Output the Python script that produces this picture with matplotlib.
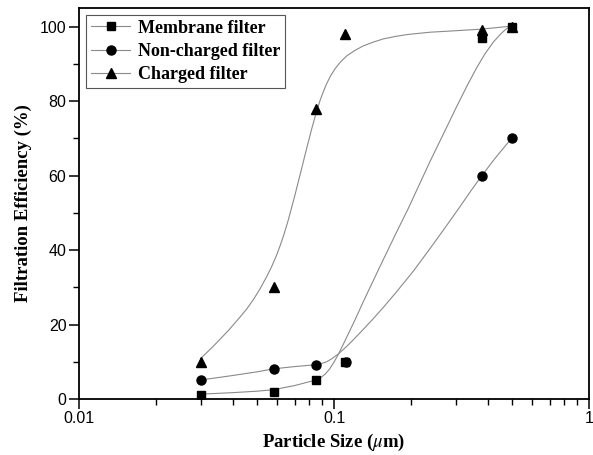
import matplotlib
matplotlib.use('Agg')
from matplotlib import pyplot as plt
from matplotlib.lines import Line2D
from matplotlib.ticker import FixedLocator, NullFormatter

# measured points
membrane_x = [0.03, 0.058, 0.085, 0.11, 0.38, 0.5]
membrane_y = [1, 2, 5, 10, 97, 100]
noncharged_x = [0.03, 0.058, 0.085, 0.111, 0.38, 0.5]
noncharged_y = [5, 8, 9, 10, 60, 70]
charged_x = [0.03, 0.058, 0.085, 0.11, 0.38, 0.5]
charged_y = [10, 30, 78, 98, 99, 100]

# fitted curves
membrane_fit_x = [0.03, 0.04, 0.05, 0.058, 0.07, 0.085, 0.089, 0.0924, 0.096, 0.1,
                  0.104, 0.11, 0.1208, 0.130, 0.151, 0.175, 0.195, 0.238, 0.27,
                  0.303, 0.333, 0.363, 0.39, 0.422, 0.45, 0.47, 0.49]
membrane_fit_y = [1.3, 1.7, 2.1, 2.5, 3.6, 5.1, 5.8, 6.7, 8.0, 9.9,
                  12.0, 15.4, 21.2, 26.0, 35.4, 44.5, 51.0, 63.8, 71.5,
                  78.6, 84.2, 89.0, 92.6, 95.9, 98.0, 99.2, 100.0]
noncharged_fit_x = [0.03, 0.04, 0.05, 0.058, 0.07, 0.085, 0.09, 0.0936, 0.098,
                    0.104, 0.11, 0.1156, 0.127, 0.1405, 0.157, 0.176, 0.205,
                    0.238, 0.27, 0.31, 0.345, 0.38, 0.43, 0.497]
noncharged_fit_y = [5.1, 6.3, 7.3, 8.1, 8.7, 9.2, 9.6, 10.0, 10.8,
                    12.1, 13.6, 15.0, 17.9, 21.1, 24.8, 28.8, 34.4,
                    40.4, 45.6, 51.4, 56.0, 60.0, 64.8, 70.0]
charged_fit_x = [0.03, 0.033, 0.0357, 0.039, 0.0428, 0.0455, 0.0483, 0.0513,
                 0.0545, 0.057, 0.0596, 0.0615, 0.0633, 0.0662, 0.070, 0.0736,
                 0.0776, 0.0818, 0.085, 0.0881, 0.091, 0.0936, 0.097, 0.101,
                 0.106, 0.112, 0.120, 0.130, 0.142, 0.156, 0.175, 0.195, 0.238,
                 0.30, 0.374, 0.43, 0.49]
charged_fit_y = [10.9, 13.6, 16.0, 18.8, 22.0, 24.2, 26.7, 29.6,
                 32.9, 35.6, 38.7, 41.2, 43.7, 48.1, 54.3, 60.2,
                 66.5, 72.6, 76.7, 80.1, 82.7, 84.7, 86.8, 88.7,
                 90.5, 92.1, 93.5, 94.8, 95.8, 96.7, 97.4, 97.9, 98.5,
                 98.9, 99.3, 99.7, 100.1]

labels = ['Membrane filter', 'Non-charged filter', 'Charged filter']
markers = ['s', 'o', '^']
marker_sizes = [6, 6.5, 7.5]

plt.rcParams['mathtext.fontset'] = 'stix'

fig = plt.figure(figsize=(5.93, 4.55), dpi=100)
ax = fig.add_axes([0.1332, 0.1231, 0.8601, 0.8593])

fit_color = '#8a8a8a'
series = [(membrane_x, membrane_y, membrane_fit_x, membrane_fit_y),
          (noncharged_x, noncharged_y, noncharged_fit_x, noncharged_fit_y),
          (charged_x, charged_y, charged_fit_x, charged_fit_y)]

handles = []
for (px, py, fx, fy), lab, mk, ms in zip(series, labels, markers, marker_sizes):
    ax.plot(fx, fy, color=fit_color, lw=0.8, zorder=2)
    ax.plot(px, py, ls='none', marker=mk, ms=ms, color='black', zorder=3)
    handles.append(Line2D([], [], color=fit_color, lw=0.8, marker=mk, ms=ms,
                          mfc='black', mec='black', label=lab))

ax.set_xscale('log')
ax.set_xlim(0.01, 1)
ax.set_ylim(0, 105)

ax.xaxis.set_major_locator(FixedLocator([0.01, 0.1, 1]))
ax.xaxis.set_minor_locator(FixedLocator([k * d for d in (0.01, 0.1) for k in range(2, 10)]))
ax.xaxis.set_minor_formatter(NullFormatter())
ax.set_xticklabels(['0.01', '0.1', '1'])
ax.set_yticks([0, 20, 40, 60, 80, 100])
ax.set_yticks([10, 30, 50, 70, 90], minor=True)

ax.tick_params(which='major', direction='out', length=7, width=1.1,
               labelsize=11.5, pad=2)
ax.tick_params(which='minor', direction='out', length=4, width=1.0)
for lab in ax.get_xticklabels() + ax.get_yticklabels():
    lab.set_family('Liberation Sans')

for sp in ax.spines.values():
    sp.set_linewidth(1.3)

label_font = dict(family='Liberation Serif', weight='bold', size=13.5)
ax.set_xlabel('Particle Size ($\\mu$m)', fontdict=label_font, labelpad=4)
ax.set_ylabel('Filtration Efficiency (%)', fontdict=label_font, labelpad=6)

leg = ax.legend(handles=handles, loc='upper left', fancybox=False,
                prop=dict(family='Liberation Serif', weight='bold', size=13),
                handlelength=2.2, handletextpad=0.4, labelspacing=0.35,
                borderpad=0.25, borderaxespad=0.4, framealpha=1)
leg.get_frame().set_edgecolor('#555555')
leg.get_frame().set_linewidth(0.8)

plt.savefig('out.png', dpi=100)
